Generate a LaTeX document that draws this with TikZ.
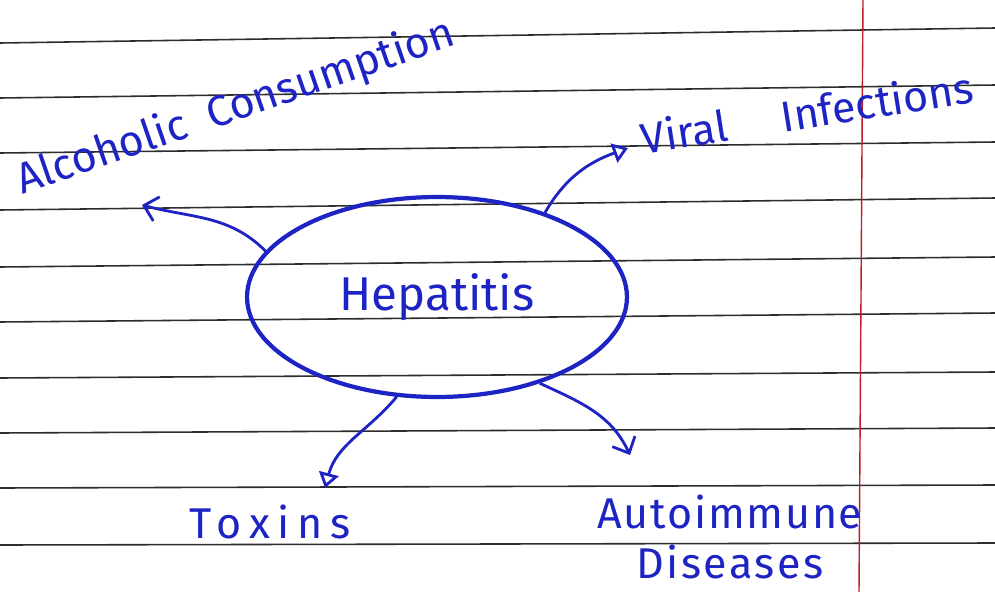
\documentclass[tikz,border=0pt]{standalone}
\usepackage{fontspec}
\setsansfont{Fira Sans}
\usetikzlibrary{shapes.geometric, arrows.meta, positioning}
\definecolor{penBlue}{RGB}{30, 35, 195}
\definecolor{ruleGray}{RGB}{45, 45, 45}
\definecolor{marginRed}{RGB}{190, 30, 40}

\begin{document}
\begin{tikzpicture}[x=0.02cm, y=-0.02cm,
        font=\sffamily,
        hand/.style={text=penBlue, inner sep=0pt, font=\sffamily\fontsize{24.5}{28}\selectfont},
        topic/.style={ellipse, draw=penBlue, line width=2.4pt, minimum width=7.6cm, minimum height=4cm, text=penBlue, font=\sffamily\fontsize{27}{30}\selectfont},
        arrow/.style={-{Straight Barb[length=2.6mm, width=5mm]}, draw=penBlue, line width=1.6pt},
        oarrow/.style={-{Triangle[open, length=3mm, width=4mm]}, draw=penBlue, line width=1.6pt},
        rule/.style={draw=ruleGray, line width=0.9pt}
    ]
        \useasboundingbox[fill=white] (0,0) rectangle (995,592);
        % ruled paper
        \foreach \yl/\yr in {43/28, 98/85, 153/142, 210/198, 267/257, 322/313, 378/372, 433/428, 488/485, 545/543}
            \draw[rule] (0,\yl) -- (995,\yr);
        \draw[marginRed, line width=0.8pt] (863,0) -- (859,592);

        \node[topic] (hep) at (437,297) {Hepatitis};

        \node[hand, rotate=19] (alcohol) at (236,108) {Alcoholic \ Consumption};
        \node[hand, rotate=9] (viral) at (807,112) {Viral \quad Infections};
        \node[hand] (toxins) at (270,522) {\addfontfeatures{LetterSpace=18}Toxins};
        \node[hand] (auto) at (730,512) {\addfontfeatures{LetterSpace=4}Autoimmune};
        \node[hand, below=0.3cm of auto] (disease) {\addfontfeatures{LetterSpace=6}Diseases};

        \coordinate (alcTip) at (142,205);
        \coordinate (viralTip) at (628,148);
        \coordinate (toxTip) at (325,488);
        \coordinate (autoTip) at (630,455);

        \draw[arrow] (hep.165) to[out=135, in=-15] (alcTip);
        \draw[oarrow] (hep.38) to[out=60, in=200] (viralTip);
        \draw[oarrow] (hep.248) to[out=230, in=75] (toxTip);
        \draw[arrow] (hep.320) to[out=-25, in=115] (autoTip);
    \end{tikzpicture}
\end{document}
